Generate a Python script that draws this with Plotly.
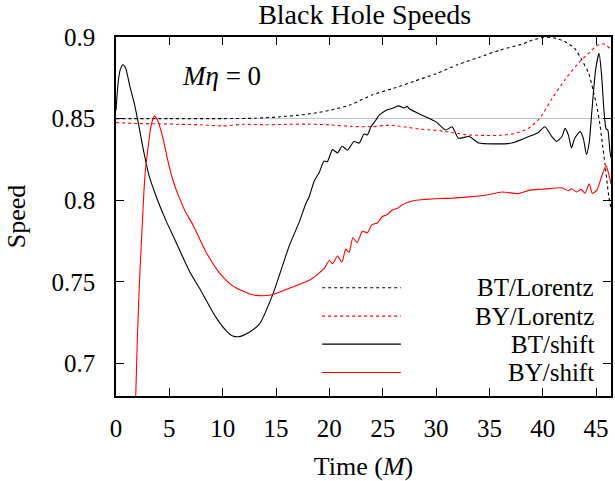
import plotly.graph_objects as go

# ---- BT / Lorentz boost (black, dotted) ----
bt_lor_t = [0, 5, 10, 13, 14, 15, 16, 17, 18, 19, 20, 22, 24, 26, 28, 30, 32, 34, 36, 38,
            39, 40, 41, 42, 43, 43.65, 44.3, 44.7, 45.06, 45.37, 45.6, 45.84, 46.05, 46.2, 46.4]
bt_lor_v = [0.85, 0.85, 0.85, 0.8502, 0.8505, 0.8509, 0.8514, 0.852, 0.8528, 0.8538, 0.855,
            0.8585, 0.8645, 0.8685, 0.873, 0.8775, 0.883, 0.8875, 0.892, 0.8955,
            0.898, 0.8998, 0.8995, 0.8975, 0.893, 0.886, 0.878, 0.868, 0.858, 0.846, 0.834,
            0.822, 0.810, 0.802, 0.795]

# ---- BY / Lorentz boost (red, dotted) ----
by_lor_t = [0, 2, 4, 6, 8, 10, 12, 14, 16, 18, 20, 22, 24, 25.6, 27, 28.5, 30, 31.5, 33, 34.5,
            36, 37.5, 38.7, 39.7, 40.85, 42.1, 43.35, 44.3, 45.06, 45.7, 46.3, 46.45]
by_lor_v = [0.8475, 0.847, 0.8468, 0.8465, 0.8462, 0.8455, 0.8465, 0.8462, 0.8465, 0.8466,
            0.8462, 0.8452, 0.845, 0.846, 0.845, 0.8435, 0.8428, 0.8415, 0.840, 0.8397,
            0.8397, 0.841, 0.8442, 0.850, 0.862, 0.874, 0.884, 0.890, 0.8946, 0.8958, 0.893, 0.892]

# ---- BT / shift (black, solid) ----
bt_sh_t = [0, 0.2, 0.4, 0.66, 0.9, 1.29, 1.76, 2.13, 2.53, 3.1, 3.9, 4.72, 5.5, 6.27, 7.0, 7.83,
           9.39, 10.4, 10.94, 11.5, 11.88, 12.6, 13.44, 14.68, 16.24, 17.2, 17.8, 18.1, 18.6,
           19.05, 19.5, 19.8, 20.3, 20.76, 21.2, 21.7, 22.3, 22.8, 23.25, 23.56, 23.9, 24.35,
           24.65, 25.3, 26.0, 26.5, 27.0, 27.3, 27.5, 28.7, 30.0, 30.9, 31.5, 32.1, 33.1, 34.0,
           35.6, 37.1, 38.7, 39.6, 40.2, 40.85, 41.3, 41.8, 42.1, 42.4, 42.7, 43.0, 43.5, 43.8,
           44.1, 44.35, 44.6, 44.96, 45.28, 45.5, 45.75, 45.93, 46.1, 46.3, 46.4]
bt_sh_v = [0.855, 0.872, 0.880, 0.883, 0.881, 0.870, 0.858, 0.846, 0.832, 0.815, 0.800, 0.787,
           0.776, 0.765, 0.755, 0.746, 0.728, 0.7195, 0.7168, 0.7163, 0.717, 0.7195, 0.724,
           0.742, 0.772, 0.787, 0.798, 0.802, 0.812, 0.817, 0.824, 0.8235, 0.831, 0.829, 0.833,
           0.8306, 0.836, 0.835, 0.8406, 0.840, 0.845, 0.849, 0.852, 0.855, 0.8565, 0.8578,
           0.8565, 0.8575, 0.856, 0.852, 0.848, 0.843, 0.845, 0.838, 0.839, 0.835, 0.8345,
           0.835, 0.839, 0.8415, 0.845, 0.839, 0.836, 0.839, 0.844, 0.840, 0.832, 0.838, 0.842,
           0.838, 0.828, 0.835, 0.854, 0.880, 0.890, 0.878, 0.854, 0.844, 0.843, 0.830, 0.826]

# ---- BY / shift (red, solid) ----
by_sh_t = [1.6, 1.85, 2.0, 2.2, 2.5, 2.7, 3.0, 3.3, 3.6, 3.9, 4.4, 4.87, 5.3, 5.9, 6.5, 7.2,
           8.46, 9.7, 10.94, 12.5, 13.44, 14.68, 16.24, 17.8, 18.4, 18.9, 19.5, 20.0, 20.3,
           20.76, 21.17, 21.54, 21.85, 22.2, 22.6, 23.1, 23.56, 24.0, 24.5, 24.96, 25.4, 25.9,
           26.4, 26.8, 27.5, 28.1, 29.0, 30.3, 31.5, 33.1, 34.6, 36.2, 37.7, 38.7, 39.6, 40.2,
           41.8, 42.4, 42.7, 43.2, 43.6, 43.97, 44.35, 44.65, 45.06, 45.5, 45.93, 46.15, 46.4]
by_sh_v = [0.62, 0.68, 0.715, 0.750, 0.790, 0.814, 0.832, 0.846, 0.8515, 0.849, 0.838, 0.824,
           0.813, 0.802, 0.793, 0.785, 0.768, 0.7555, 0.7475, 0.7425, 0.7415, 0.7422, 0.746,
           0.750, 0.752, 0.7546, 0.758, 0.763, 0.761, 0.7658, 0.762, 0.770, 0.768, 0.777,
           0.774, 0.781, 0.780, 0.785, 0.786, 0.790, 0.791, 0.794, 0.795, 0.797, 0.799, 0.800,
           0.8005, 0.801, 0.8012, 0.802, 0.803, 0.805, 0.804, 0.806, 0.8066, 0.8068, 0.8076,
           0.8058, 0.807, 0.805, 0.8066, 0.8042, 0.810, 0.8042, 0.806, 0.814, 0.8212, 0.817, 0.810]

x_ticks = [0, 5, 10, 15, 20, 25, 30, 35, 40, 45]
y_ticks = [0.7, 0.75, 0.8, 0.85, 0.9]
y_tick_text = ["0.7", "0.75", "0.8", "0.85", "0.9"]
reference_speed = 0.85

series = [
    ("BT/Lorentz", bt_lor_t, bt_lor_v, "black", "3px,3px"),
    ("BY/Lorentz", by_lor_t, by_lor_v, "red", "3px,3px"),
    ("BT/shift", bt_sh_t, bt_sh_v, "black", "solid"),
    ("BY/shift", by_sh_t, by_sh_v, "red", "solid"),
]

FONT = "'Liberation Serif', 'Times New Roman', Times, serif"

fig = go.Figure()
for name, t, v, color, dash in series:
    fig.add_trace(go.Scatter(
        x=t, y=v, mode="lines", name=name,
        line=dict(color=color, width=1.1, dash=dash, shape="spline", smoothing=0.6),
        showlegend=False, hoverinfo="skip"))

# horizontal reference speed
fig.add_shape(type="line", xref="paper", x0=0, x1=1, yref="y",
              y0=reference_speed, y1=reference_speed,
              line=dict(color="#bdbdbd", width=1), layer="below")

# key: line sample on the left, right-aligned label
key_rows = [0.3016, 0.2226, 0.1444, 0.0654]
for (name, _, _, color, dash), yk in zip(series, key_rows):
    fig.add_shape(type="line", xref="paper", yref="paper",
                  x0=0.4165, x1=0.5755, y0=yk, y1=yk,
                  line=dict(color=color, width=1.1, dash=dash))
    fig.add_annotation(xref="paper", yref="paper", x=0.969, y=yk,
                       text=name, showarrow=False, xanchor="right", yanchor="middle",
                       font=dict(family=FONT, size=25, color="black"))

fig.add_annotation(x=9.9, y=0.876, xref="x", yref="y",
                   text="<i>M\u03b7</i> = 0", showarrow=False,
                   font=dict(family=FONT, size=27, color="black"))

axis_common = dict(showline=True, linecolor="black", linewidth=1.5, mirror="ticks",
                   ticks="inside", ticklen=8, tickwidth=1.2, tickcolor="black",
                   showgrid=False, zeroline=False,
                   tickfont=dict(family=FONT, size=25, color="black"))

fig.update_layout(
    width=615, height=481,
    margin=dict(l=116, r=2, t=37, b=77),
    font=dict(family=FONT, color="black"),
    plot_bgcolor="white", paper_bgcolor="white",
    title=dict(text="Black Hole Speeds", x=0.593, xanchor="center",
               y=1 - 14 / 481, yanchor="middle",
               font=dict(family=FONT, size=28, color="black")),
    xaxis=dict(range=[0, 46.4], tickvals=x_ticks, ticklabelstandoff=9,
               title=dict(text="Time (<i>M</i>)", standoff=19,
                          font=dict(family=FONT, size=26, color="black")),
               **axis_common),
    yaxis=dict(range=[0.68, 0.9], tickvals=y_ticks, ticktext=y_tick_text,
               ticklabelstandoff=14,
               title=dict(text="Speed", standoff=18,
                          font=dict(family=FONT, size=26, color="black")),
               **axis_common),
)

fig.write_html("out.html")
